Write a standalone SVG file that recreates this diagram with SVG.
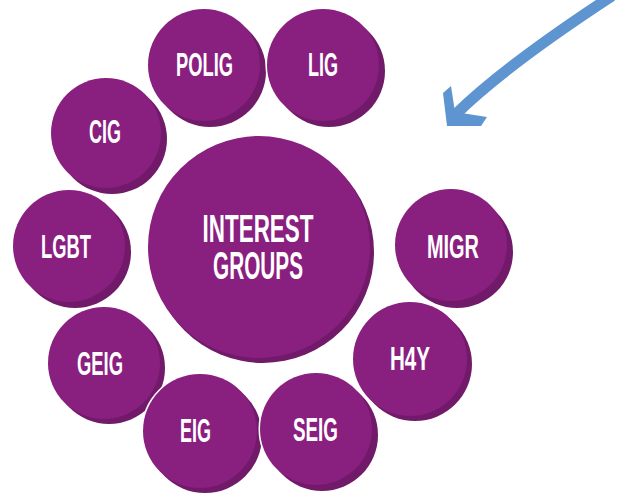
<svg xmlns="http://www.w3.org/2000/svg" width="620" height="493" viewBox="0 0 620 493">
<style>
.halo{fill:#fff;stroke:#fff;stroke-width:3}
.sh{fill:#711a69}
.fr{fill:#891f7f}
.lb{fill:#fff;font-family:"Liberation Sans Narrow","Liberation Sans","DejaVu Sans Condensed",sans-serif;font-weight:bold;font-size:33px;text-anchor:middle}
.big{font-size:39px}
.arrow{fill:none;stroke:#5e95d0;stroke-width:11}
</style>
<rect width="620" height="493" fill="#fff"/>
<g id="connectors">
<path class="arrow" d="M612,-4 Q505,66 456,114"/>
<polygon fill="#5e95d0" points="443,93 451,86 455,112 487,117 481,126 447,126"/>
</g>
<g id="node-center">
<circle class="halo" cx="263" cy="252" r="111"/><circle class="halo" cx="259" cy="247" r="111"/>
<circle class="sh" cx="263" cy="252" r="111"/><circle class="fr" cx="259" cy="247" r="111"/>
<text class="lb big" x="258" y="242" textLength="111" lengthAdjust="spacingAndGlyphs">INTEREST</text>
<text class="lb big" x="258" y="279" textLength="90" lengthAdjust="spacingAndGlyphs">GROUPS</text>
</g>
<g id="node-polig">
<circle class="halo" cx="210" cy="71" r="56"/><circle class="halo" cx="204" cy="65" r="56"/>
<circle class="sh" cx="210" cy="71" r="56"/><circle class="fr" cx="204" cy="65" r="56"/>
<text class="lb" x="204.5" y="76" textLength="57" lengthAdjust="spacingAndGlyphs">POLIG</text>
</g>
<g id="node-lig">
<circle class="halo" cx="329" cy="71" r="56"/><circle class="halo" cx="323" cy="65" r="56"/>
<circle class="sh" cx="329" cy="71" r="56"/><circle class="fr" cx="323" cy="65" r="56"/>
<text class="lb" x="323" y="76" textLength="30" lengthAdjust="spacingAndGlyphs">LIG</text>
</g>
<g id="node-cig">
<circle class="halo" cx="112" cy="139" r="55"/><circle class="halo" cx="106" cy="133" r="55"/>
<circle class="sh" cx="112" cy="139" r="55"/><circle class="fr" cx="106" cy="133" r="55"/>
<text class="lb" x="105" y="143" textLength="32" lengthAdjust="spacingAndGlyphs">CIG</text>
</g>
<g id="node-lgbt">
<circle class="halo" cx="75" cy="252" r="56"/><circle class="halo" cx="69" cy="246" r="56"/>
<circle class="sh" cx="75" cy="252" r="56"/><circle class="fr" cx="69" cy="246" r="56"/>
<text class="lb" x="66" y="258" textLength="50" lengthAdjust="spacingAndGlyphs">LGBT</text>
</g>
<g id="node-migr">
<circle class="halo" cx="457" cy="252" r="56"/><circle class="halo" cx="451" cy="245" r="56"/>
<circle class="sh" cx="457" cy="252" r="56"/><circle class="fr" cx="451" cy="245" r="56"/>
<text class="lb" x="453" y="258" textLength="52" lengthAdjust="spacingAndGlyphs">MIGR</text>
</g>
<g id="node-h4y">
<circle class="halo" cx="415" cy="364" r="57"/><circle class="halo" cx="410" cy="359" r="57"/>
<circle class="sh" cx="415" cy="364" r="57"/><circle class="fr" cx="410" cy="359" r="57"/>
<text class="lb" x="410" y="370" textLength="40" lengthAdjust="spacingAndGlyphs">H4Y</text>
</g>
<g id="node-geig">
<circle class="halo" cx="109" cy="368" r="56"/><circle class="halo" cx="104" cy="363" r="56"/>
<circle class="sh" cx="109" cy="368" r="56"/><circle class="fr" cx="104" cy="363" r="56"/>
<text class="lb" x="100" y="375" textLength="46" lengthAdjust="spacingAndGlyphs">GEIG</text>
</g>
<g id="node-eig">
<circle class="halo" cx="205" cy="436" r="57"/><circle class="halo" cx="200" cy="431" r="57"/>
<circle class="sh" cx="205" cy="436" r="57"/><circle class="fr" cx="200" cy="431" r="57"/>
<text class="lb" x="195.5" y="442" textLength="31" lengthAdjust="spacingAndGlyphs">EIG</text>
</g>
<g id="node-seig">
<circle class="halo" cx="322" cy="435" r="56"/><circle class="halo" cx="316" cy="429" r="56"/>
<circle class="sh" cx="322" cy="435" r="56"/><circle class="fr" cx="316" cy="429" r="56"/>
<text class="lb" x="315.5" y="441" textLength="45" lengthAdjust="spacingAndGlyphs">SEIG</text>
</g>
</svg>
